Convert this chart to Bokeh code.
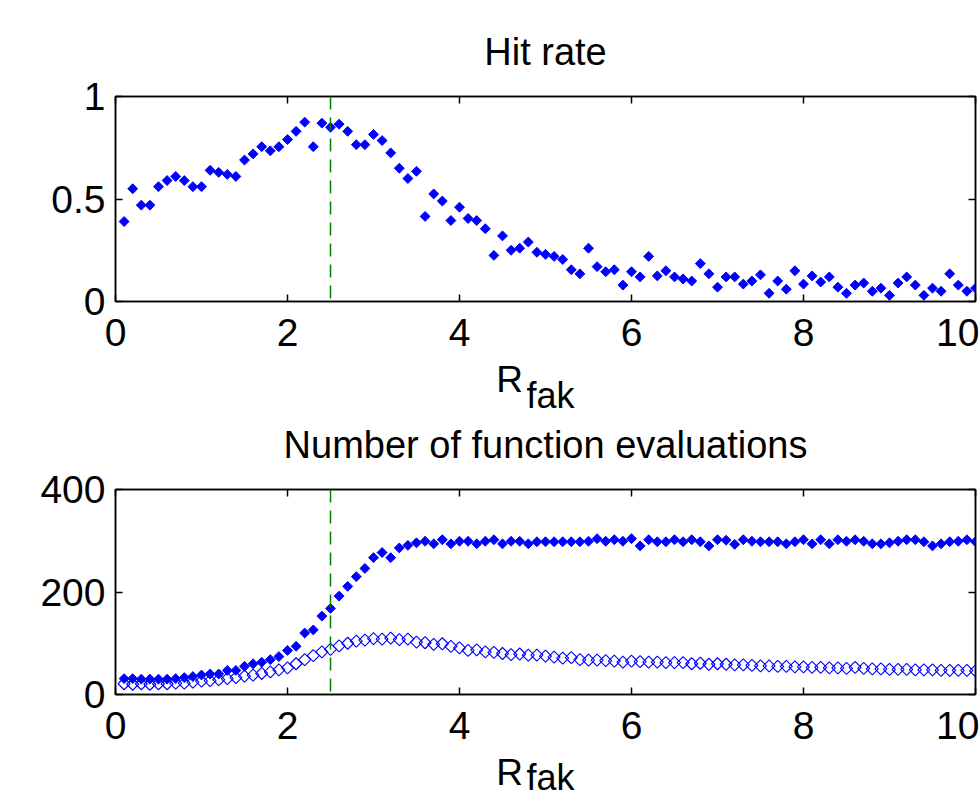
import numpy as np
from bokeh.plotting import figure
from bokeh.models import Range1d, FixedTicker, LinearAxis, Span
from bokeh.layouts import column
from bokeh.embed import file_html
from bokeh.resources import INLINE

# ---------------- data ----------------
r_fak = np.round(np.arange(1, 101) * 0.1, 1)

hit_rate = [
    0.39, 0.55, 0.47, 0.47, 0.56, 0.59, 0.61, 0.59, 0.56, 0.56,
    0.64, 0.63, 0.62, 0.61, 0.69, 0.72, 0.755, 0.735, 0.755, 0.79,
    0.83, 0.875, 0.755, 0.87, 0.85, 0.865, 0.83, 0.765, 0.765, 0.815,
    0.785, 0.725, 0.65, 0.60, 0.635, 0.415, 0.525, 0.49, 0.395, 0.46,
    0.405, 0.395, 0.355, 0.225, 0.32, 0.25, 0.26, 0.29, 0.24, 0.23,
    0.22, 0.205, 0.155, 0.135, 0.26, 0.17, 0.145, 0.155, 0.08, 0.145,
    0.12, 0.22, 0.125, 0.15, 0.12, 0.11, 0.10, 0.185, 0.135, 0.07,
    0.12, 0.12, 0.085, 0.10, 0.13, 0.04, 0.10, 0.06, 0.15, 0.085,
    0.125, 0.095, 0.12, 0.07, 0.04, 0.08, 0.09, 0.05, 0.065, 0.03,
    0.09, 0.12, 0.08, 0.03, 0.065, 0.05, 0.135, 0.08, 0.05, 0.065,
]

evals_total = [
    31, 31, 30, 30, 30, 30, 31, 33, 35, 38,
    40, 40, 47, 47, 55, 60, 63, 68, 74, 86,
    94, 120, 126, 153, 168, 192, 211, 230, 246, 267,
    277, 267, 286, 291, 296, 299, 294, 302, 294, 299,
    299, 294, 299, 302, 294, 299, 299, 294, 298, 298,
    298, 298, 298, 298, 299, 304, 299, 302, 299, 304,
    290, 302, 298, 298, 302, 298, 302, 298, 290, 302,
    301, 293, 302, 299, 298, 298, 298, 294, 298, 302,
    294, 302, 294, 302, 299, 302, 299, 294, 294, 296,
    299, 302, 302, 298, 290, 294, 298, 299, 302, 298,
]

evals_hit = [
    21, 20, 21, 20, 21, 21, 22, 22, 24, 26,
    27, 29, 31, 33, 36, 38, 41, 44, 48, 52,
    60, 68, 76, 83, 88, 95, 100, 104, 106, 109,
    108, 110, 107, 108, 102, 101, 98, 99, 94, 91,
    86, 87, 83, 82, 80, 78, 79, 77, 77, 75,
    73, 71, 72, 68, 67, 67, 66, 65, 63, 65,
    64, 63, 63, 62, 62, 62, 60, 61, 59, 60,
    59, 58, 58, 57, 56, 56, 55, 55, 54, 54,
    53, 53, 52, 52, 51, 53, 51, 50, 50, 49,
    49, 49, 48, 48, 48, 47, 47, 47, 47, 46,
]

r_opt = 2.5
x_ticks = [0, 2, 4, 6, 8, 10]
hit_ticks = [0, 0.5, 1]
hit_tick_labels = ["0", "0.5", "1"]
eval_ticks = [0, 200, 400]
eval_tick_labels = ["0", "200", "400"]
x_label_main = "R"
x_label_sub = "fak"

# ---------------- style ----------------
FONT = "Liberation Sans"
FS_TICK = "39px"
FS_TITLE = "38px"
FS_LABEL = "37px"
FS_SUB = "36px"
BLUE = "#0000ff"
GREEN = "#008000"
W = 979
LEFT = 115
RIGHT = 4
NB = "\u00a0"


def style_axis(ax, ticks, labels=None, show_labels=True):
    ax.ticker = FixedTicker(ticks=ticks)
    ax.major_tick_in = 7
    ax.major_tick_out = 0
    ax.minor_tick_line_color = None
    ax.axis_line_color = "black"
    ax.axis_line_width = 1.5
    ax.major_tick_line_color = "black"
    ax.major_tick_line_width = 1.5
    if show_labels:
        ax.major_label_text_font = FONT
        ax.major_label_text_font_size = FS_TICK
        ax.major_label_text_color = "black"
        if labels:
            ax.major_label_overrides = {t: l for t, l in zip(ticks, labels)}
    else:
        ax.major_label_text_font_size = "0px"
        ax.major_label_standoff = 0
        ax.major_label_text_color = None


def make_fig(title, height, top, bottom, ymax, yticks, ylabels, sub_standoff):
    p = figure(width=W, height=height, output_backend="svg", toolbar_location=None,
               x_range=Range1d(0, 10), y_range=Range1d(0, ymax),
               min_border_left=LEFT, min_border_right=RIGHT,
               min_border_top=top, min_border_bottom=bottom)
    p.grid.visible = False
    p.background_fill_color = "white"
    p.border_fill_color = "white"
    p.outline_line_color = "black"
    p.outline_line_width = 1.5
    p.title.text = title
    p.title.align = "center"
    p.title.text_font = FONT
    p.title.text_font_size = FS_TITLE
    p.title.text_font_style = "normal"
    p.title.text_color = "black"
    p.title.standoff = 0

    xa = p.xaxis[0]
    style_axis(xa, x_ticks)
    xa.major_label_standoff = 17
    xa.axis_label = x_label_main + NB * 7
    xa.axis_label_text_font = FONT
    xa.axis_label_text_font_size = FS_LABEL
    xa.axis_label_text_font_style = "normal"
    xa.axis_label_text_color = "black"
    xa.axis_label_standoff = 10

    ya = p.yaxis[0]
    style_axis(ya, yticks, ylabels)
    ya.major_label_standoff = 10

    # subscript of the x label, drawn as the label of a bare second axis
    sub_ax = LinearAxis(ticker=FixedTicker(ticks=[]))
    style_axis(sub_ax, [], show_labels=False)
    sub_ax.axis_line_color = None
    sub_ax.major_tick_line_color = None
    sub_ax.axis_label = NB + x_label_sub
    sub_ax.axis_label_text_font = FONT
    sub_ax.axis_label_text_font_size = FS_SUB
    sub_ax.axis_label_text_font_style = "normal"
    sub_ax.axis_label_text_color = "black"
    sub_ax.axis_label_standoff = sub_standoff
    p.add_layout(sub_ax, "below")

    # mirrored ticks on top / right (box style); the top axis also lifts the title
    top_ax = LinearAxis()
    style_axis(top_ax, x_ticks, show_labels=False)
    top_ax.axis_label = NB
    top_ax.axis_label_text_font_size = "1px"
    top_ax.axis_label_text_color = "white"
    top_ax.axis_label_standoff = 20
    p.add_layout(top_ax, "above")
    right_ax = LinearAxis()
    style_axis(right_ax, yticks, show_labels=False)
    p.add_layout(right_ax, "right")

    p.add_layout(Span(location=r_opt, dimension="height", line_color=GREEN,
                      line_dash="13 8", line_width=1.5))
    return p


p1 = make_fig("Hit rate", 418, 96, 114, 1, hit_ticks, hit_tick_labels, -28)
p1.scatter(r_fak, hit_rate, marker="square", angle=np.pi / 4, size=7,
           fill_color=BLUE, line_color=BLUE, line_width=1)

p2 = make_fig("Number of function evaluations", 382, 71, 103, 400,
              eval_ticks, eval_tick_labels, -39)
p2.scatter(r_fak, evals_total, marker="square", angle=np.pi / 4, size=7,
           fill_color=BLUE, line_color=BLUE, line_width=1)
p2.scatter(r_fak, evals_hit, marker="square", angle=np.pi / 4, size=8.5,
           fill_color=None, line_color=BLUE, line_width=1.1)

layout = column(p1, p2, spacing=0)
open("out.html", "w").write(file_html(layout, INLINE))
